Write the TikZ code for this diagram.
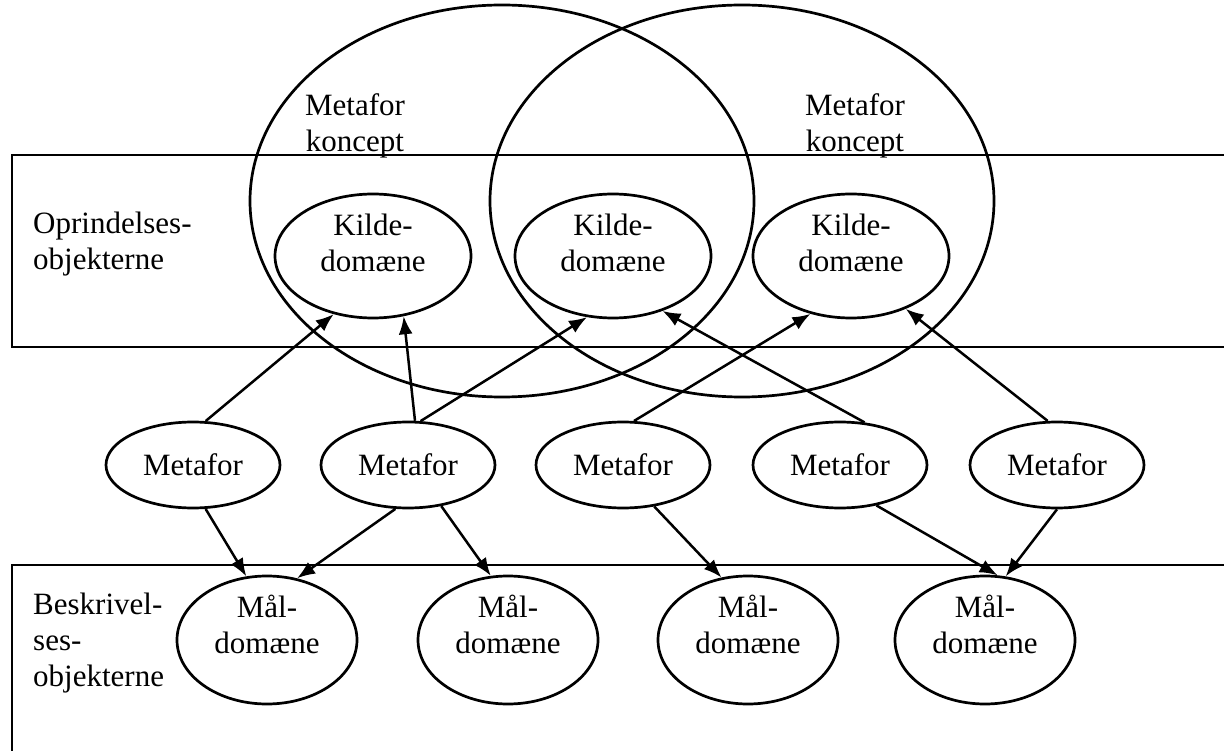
\documentclass[tikz,border=0pt]{standalone}
\usepackage{fontspec}
\setmainfont{Liberation Serif}
\usetikzlibrary{shapes.geometric,arrows.meta}
\begin{document}
\begin{tikzpicture}[x=1pt,y=-1pt,
  every node/.style={font=\fontsize{31}{36}\selectfont},
  frame/.style={draw, line width=2.8pt},
  oval/.style={draw, ellipse, inner sep=0pt, align=center, line width=2.7pt},
  bigoval/.style={oval, minimum width=504pt, minimum height=392pt},
  kilde/.style={oval, minimum width=196pt, minimum height=124pt, text depth=26pt},
  metafor/.style={oval, minimum width=174pt, minimum height=86pt},
  maal/.style={oval, minimum width=180pt, minimum height=128pt, text depth=32pt},
  label/.style={inner sep=0pt, align=left, anchor=north west},
  concept/.style={inner sep=0pt, align=center, anchor=north},
  arr/.style={-{Latex[length=18pt,width=14pt]}, line width=2.5pt}
]
\useasboundingbox (0,0) rectangle (1224,751);
\clip (0,0) rectangle (1224,751);

% bands
\draw[frame] (12,155) rectangle (1260,347);
\draw[frame] (12,565) rectangle (1260,790);

% metaphor concepts
\node[bigoval] (B1) at (502,201) {};
\node[bigoval] (B2) at (742,201) {};
\node[concept] (C1) at (355,93) {Metafor\\koncept};
\node[concept] (C2) at (855,93) {Metafor\\koncept};

% source domains
\node[kilde] (K1) at (373,256) {Kilde-\\domæne};
\node[kilde] (K2) at (613,256) {Kilde-\\domæne};
\node[kilde] (K3) at (851,256) {Kilde-\\domæne};

% metaphors
\node[metafor] (M1) at (193,465) {Metafor};
\node[metafor] (M2) at (408,465) {Metafor};
\node[metafor] (M3) at (623,465) {Metafor};
\node[metafor] (M4) at (840,465) {Metafor};
\node[metafor] (M5) at (1057,465) {Metafor};

% target domains
\node[maal] (T1) at (267,640) {Mål-\\domæne};
\node[maal] (T2) at (508,640) {Mål-\\domæne};
\node[maal] (T3) at (748,640) {Mål-\\domæne};
\node[maal] (T4) at (985,640) {Mål-\\domæne};

% band labels
\node[label] (L1) at (33,212) {Oprindelses-\\objekterne};
\node[label] (L2) at (33,593) {Beskrivel-\\ses-\\objekterne};

% arrows up
\draw[arr] (M1.74) -- (K1.236);
\draw[arr] (M2.81) -- (K1.297);
\draw[arr] (M2.74) -- (K2.247);
\draw[arr] (M3.76) -- (K3.235);
\draw[arr] (M4.60) -- (K2.312);
\draw[arr] (M5.102) -- (K3.316);

% arrows down
\draw[arr] (M1.286) -- (T1.108);
\draw[arr] (M2.254) -- (T1.64);
\draw[arr] (M2.309) -- (T2.105);
\draw[arr] (M3.307) -- (T3.113);
\draw[arr] (M4.312) -- (T4.79);
\draw[arr] (M5.south) -- (T4.72);
\end{tikzpicture}
\end{document}
